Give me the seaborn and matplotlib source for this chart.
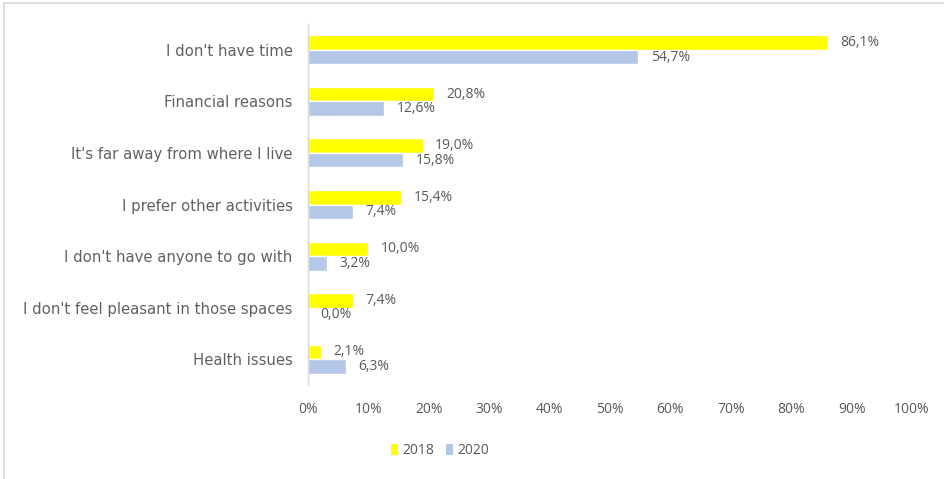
import matplotlib
matplotlib.use("Agg")
import matplotlib.pyplot as plt
from matplotlib.lines import Line2D
from matplotlib.patches import Patch
import seaborn as sns
import pandas as pd

reasons = [
    "I don't have time",
    "Financial reasons",
    "It's far away from where I live",
    "I prefer other activities",
    "I don't have anyone to go with",
    "I don't feel pleasant in those spaces",
    "Health issues",
]
years = ["2018", "2020"]
values_2018 = [86.1, 20.8, 19.0, 15.4, 10.0, 7.4, 2.1]
values_2020 = [54.7, 12.6, 15.8, 7.4, 3.2, 0.0, 6.3]
x_ticks = [0, 10, 20, 30, 40, 50, 60, 70, 80, 90, 100]

colors = {"2018": "#FFFF00", "2020": "#B4C7E7"}
text_grey = "#595959"

df = pd.DataFrame({
    "reason": reasons * 2,
    "year": ["2018"] * len(reasons) + ["2020"] * len(reasons),
    "share": values_2018 + values_2020,
})

sns.set_theme(style="white")
plt.rcParams["font.family"] = ["Open Sans", "DejaVu Sans"]

fig = plt.figure(figsize=(9.44, 4.79), dpi=100)
ax = fig.add_axes([308 / 944, 1 - 385 / 479, 604 / 944, 361 / 479])

sns.barplot(data=df, y="reason", x="share", hue="year", order=reasons,
            hue_order=years, palette=colors, orient="h", width=0.56,
            saturation=1, legend=False, ax=ax)

for container in ax.containers:
    for bar in container:
        v = bar.get_width()
        ax.annotate(f"{v:.1f}%".replace(".", ","),
                    xy=(v, bar.get_y() + bar.get_height() / 2),
                    xytext=(9, 0), textcoords="offset points",
                    ha="left", va="center", fontsize=10, color=text_grey)

ax.set_xlim(0, 100)
ax.set_ylim(len(reasons) - 0.5, -0.5)
ax.set_xticks(x_ticks)
ax.set_xticklabels([f"{t}%" for t in x_ticks])
ax.set_xlabel("")
ax.set_ylabel("")
ax.tick_params(axis="x", length=0, pad=12, labelsize=10, labelcolor=text_grey)
ax.tick_params(axis="y", length=0, pad=11, labelcolor="#606060")
for lbl in ax.get_yticklabels():
    lbl.set_fontfamily(["DejaVu Sans"])
    lbl.set_fontsize(10.7)

for side in ["top", "right", "bottom"]:
    ax.spines[side].set_visible(False)
ax.spines["left"].set_color("#D9D9D9")
ax.spines["left"].set_linewidth(1)
ax.grid(False)

handles = [Patch(facecolor=colors[y], edgecolor="none", label=y) for y in years]
fig.legend(handles=handles, loc="center", bbox_to_anchor=(440 / 944, 1 - 451 / 479),
           ncol=2, frameon=False, fontsize=10, labelcolor=text_grey,
           handlelength=0.55, handleheight=0.85, handletextpad=0.3, columnspacing=0.8)

# light frame along the top and left edges
fig.add_artist(Line2D([4 / 944, 1], [1 - 2.5 / 479, 1 - 2.5 / 479],
                      transform=fig.transFigure, color="#D9D9D9", lw=1.2))
fig.add_artist(Line2D([4 / 944, 4 / 944], [0, 1 - 2.5 / 479],
                      transform=fig.transFigure, color="#D9D9D9", lw=1.2))

fig.savefig("out.png", dpi=100)
